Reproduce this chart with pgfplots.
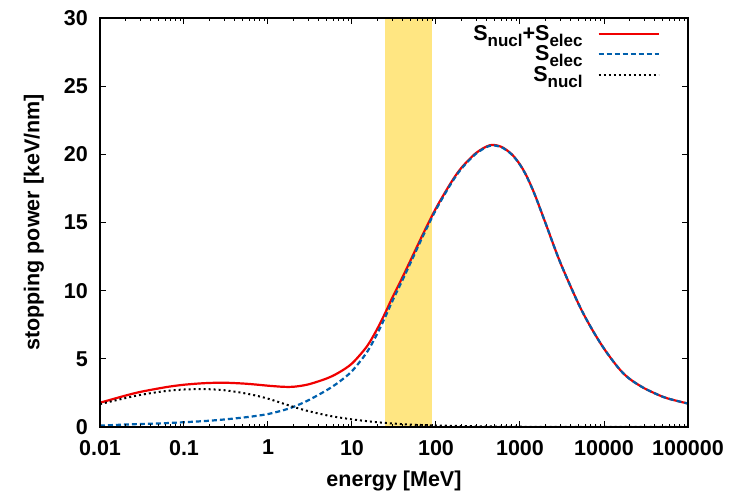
\documentclass[border=0pt]{standalone}
\usepackage{pgfplots}
\pgfplotsset{compat=1.18}
\usepackage{pgfplotstable}
\usepackage{fontspec}
\setmainfont{Liberation Sans}
\definecolor{cred}{HTML}{F00000}
\definecolor{cblue}{HTML}{0060AD}
\definecolor{cyel}{HTML}{FFE682}
\newcommand\sub[1]{\raisebox{-0.5ex}{\fontsize{17bp}{18bp}\selectfont #1}}

\pgfplotstableread{
E      nucl   elec   tot
0.01   1.68   0.10   1.78
0.02   2.12   0.18   2.30
0.03   2.35   0.22   2.57
0.05   2.57   0.26   2.83
0.07   2.68   0.30   2.98
0.1    2.75   0.35   3.10
0.15   2.78   0.41   3.19
0.2    2.77   0.46   3.23
0.3    2.70   0.55   3.25
0.5    2.50   0.69   3.19
0.7    2.32   0.80   3.12
1      2.08   0.95   3.03
1.5    1.73   1.22   2.95
2      1.48   1.47   2.95
3      1.17   1.95   3.12
5      0.86   2.70   3.56
7      0.70   3.30   4.00
10     0.56   4.10   4.66
15     0.43   5.47   5.90
20     0.35   6.85   7.20
25     0.30   8.10   8.40
30     0.26   9.19   9.45
40     0.21   10.79  11.00
50     0.18   12.07  12.25
70     0.14   14.01  14.15
100    0.11   15.94  16.05
150    0.085  17.82  17.90
200    0.07   18.93  19.00
300    0.05   20.05  20.10
440    0.04   20.63  20.67
600    0.03   20.52  20.55
800    0.025  19.98  20.00
1000   0.02   19.23  19.25
1200   0.017  18.38  18.40
1500   0.015  17.04  17.05
2000   0.012  15.00  15.00
3000   0.009  12.10  12.10
5000   0.006  9.00   9.00
7000   0.005  7.30   7.30
10000  0.004  5.75   5.75
15000  0.003  4.30   4.30
20000  0.002  3.55   3.55
30000  0.002  2.85   2.85
50000  0.001  2.22   2.22
70000  0.001  1.95   1.95
100000 0.001  1.72   1.72
}\data

\begin{document}
\begin{tikzpicture}[font=\fontsize{21.5bp}{24bp}\selectfont\bfseries]
\useasboundingbox (-100bp,-70bp) rectangle (629bp,427bp);
\begin{axis}[
  at={(0,0)}, anchor=south west,
  scale only axis, width=588bp, height=409bp,
  xmode=log, xmin=0.01, xmax=100000, ymin=0, ymax=30,
  xtick={0.01,0.1,1,10,100,1000,10000,100000},
  xticklabels={0.01,0.1,1,10,100,1000,10000,100000},
  ytick={0,5,10,15,20,25,30},
  /pgf/number format/assume math mode=true,
  axis on top,
  axis line style={line width=1.3bp},
  major tick length=6bp, minor tick length=3bp,
  every tick/.style={black, line width=1bp},
  tick label style={font=\fontsize{21.5bp}{24bp}\selectfont\bfseries},
  xticklabel style={inner sep=0pt, yshift=-13bp},
  yticklabel style={inner sep=0pt, xshift=-12bp},
  xlabel={energy [MeV]}, ylabel={stopping power [keV/nm]},
  label style={font=\fontsize{21.5bp}{24bp}\selectfont\bfseries},
  xlabel style={at={(axis description cs:0.5,-0.1076)}, anchor=north, inner sep=0pt},
  ylabel style={at={(axis description cs:-0.0952,0.5)}, anchor=south, inner sep=0pt},
  legend style={draw=none, fill=none, at={(axis description cs:0.9575,0.992)}, anchor=north east,
    font=\fontsize{21.5bp}{24bp}\selectfont\bfseries, row sep=0bp},
  legend cell align=right,
  legend plot pos=right,
  legend image code/.code={\path (0bp,0bp); \draw[#1] (13bp,0bp) -- (73bp,0bp);},
]
\addplot[fill=cyel, draw=none, forget plot] coordinates {(25,0) (25,30) (90,30) (90,0)} -- cycle;
\addplot[cred, line width=2.2bp, smooth] table[x=E,y=tot]{\data};
\addplot[cblue, line width=2.2bp, dash pattern=on 5bp off 3bp, smooth] table[x=E,y=elec]{\data};
\addplot[black, line width=2bp, dash pattern=on 2bp off 3bp, smooth] table[x=E,y=nucl]{\data};
\legend{S\sub{nucl}+S\sub{elec}, S\sub{elec}, S\sub{nucl}}
\end{axis}
\end{tikzpicture}
\end{document}
